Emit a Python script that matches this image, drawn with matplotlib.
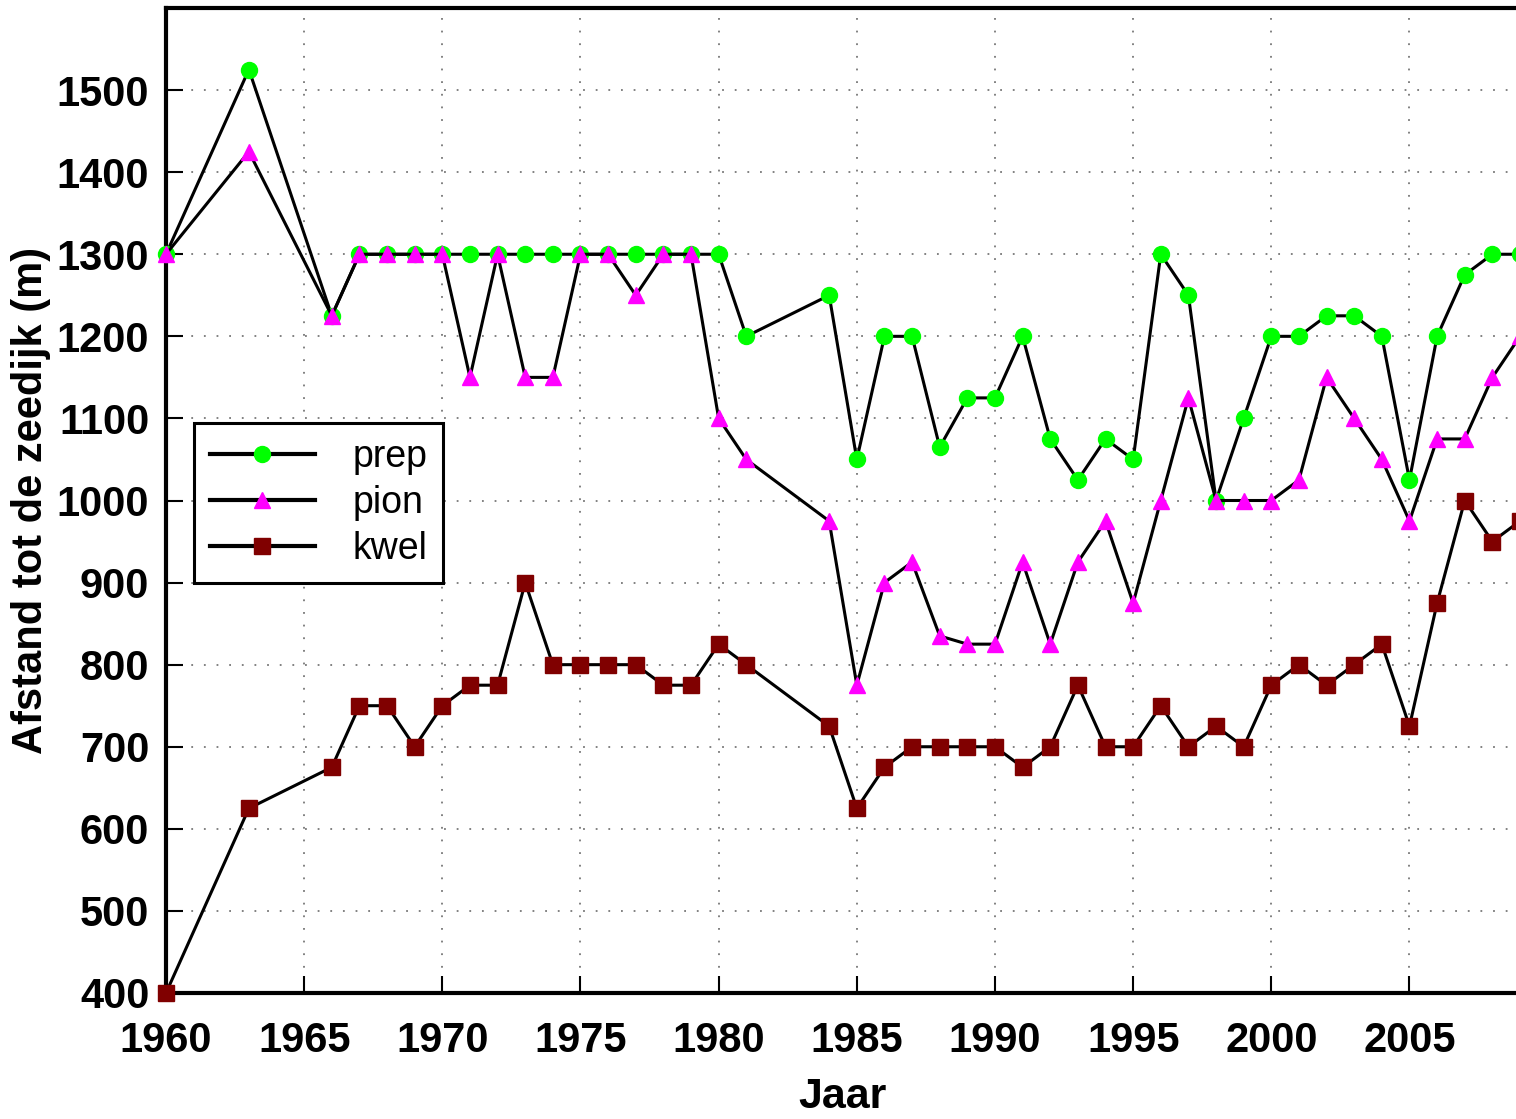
import matplotlib
matplotlib.use('Agg')
import matplotlib.pyplot as plt

# jaren en afstanden (m)
years = [1960, 1963, 1966, 1967, 1968, 1969, 1970, 1971, 1972, 1973, 1974,
         1975, 1976, 1977, 1978, 1979, 1980, 1981, 1984, 1985, 1986, 1987,
         1988, 1989, 1990, 1991, 1992, 1993, 1994, 1995, 1996, 1997, 1998,
         1999, 2000, 2001, 2002, 2003, 2004, 2005, 2006, 2007, 2008, 2009]

prep = [1300, 1525, 1225, 1300, 1300, 1300, 1300, 1300, 1300, 1300, 1300,
        1300, 1300, 1300, 1300, 1300, 1300, 1200, 1250, 1050, 1200, 1200,
        1065, 1125, 1125, 1200, 1075, 1025, 1075, 1050, 1300, 1250, 1000,
        1100, 1200, 1200, 1225, 1225, 1200, 1025, 1200, 1275, 1300, 1300]

pion = [1300, 1425, 1225, 1300, 1300, 1300, 1300, 1150, 1300, 1150, 1150,
        1300, 1300, 1250, 1300, 1300, 1100, 1050, 975, 775, 900, 925,
        835, 825, 825, 925, 825, 925, 975, 875, 1000, 1125, 1000,
        1000, 1000, 1025, 1150, 1100, 1050, 975, 1075, 1075, 1150, 1200]

kwel = [400, 625, 675, 750, 750, 700, 750, 775, 775, 900, 800,
        800, 800, 800, 775, 775, 825, 800, 725, 625, 675, 700,
        700, 700, 700, 675, 700, 775, 700, 700, 750, 700, 725,
        700, 775, 800, 775, 800, 825, 725, 875, 1000, 950, 975]

xticks = [1960, 1965, 1970, 1975, 1980, 1985, 1990, 1995, 2000, 2005]
yticks = list(range(400, 1600, 100))

plt.rcParams['font.family'] = ['Liberation Sans', 'DejaVu Sans']

fig = plt.figure(figsize=(15.16, 11.19), dpi=100)
# rechterrand valt net buiten het beeld, zoals in het origineel
ax = fig.add_axes([166 / 1516, 1 - 993 / 1119, (1520 - 166) / 1516, (993 - 8) / 1119])

ax.plot(years, prep, color='black', lw=2.2, marker='o', ms=11.5,
        mfc='#00ff00', mec='#00ff00', label='prep', clip_on=False, zorder=3)
ax.plot(years, pion, color='black', lw=2.2, marker='^', ms=11,
        mfc='#ff00ff', mec='#ff00ff', label='pion', clip_on=False, zorder=4)
ax.plot(years, kwel, color='black', lw=2.2, marker='s', ms=11,
        mfc='#800000', mec='#800000', label='kwel', clip_on=False, zorder=5)

ax.set_xlim(1960, 2009)
ax.set_ylim(400, 1600)
ax.set_xticks(xticks)
ax.set_yticks(yticks)
ax.set_xticklabels([str(t) for t in xticks], fontsize=30, fontweight='bold')
ax.set_yticklabels([str(t) for t in yticks], fontsize=30, fontweight='bold')

ax.grid(True, color='#777777', linestyle=(0, (1, 6)), linewidth=1.3)
ax.tick_params(direction='in', length=12, width=1.5, top=False, right=False)
ax.tick_params(axis='y', pad=12)
ax.tick_params(axis='x', pad=20)
for s in ax.spines.values():
    s.set_linewidth(3)

ax.set_xlabel('Jaar', fontsize=31, fontweight='bold', labelpad=12)
ax.set_ylabel('Afstand tot de zeedijk (m)', fontsize=30, fontweight='bold', labelpad=4)

leg = ax.legend(loc='upper left', bbox_to_anchor=((194 - 166) / 1354, 1 - (423 - 8) / 985),
                fontsize=27, handlelength=2.8, fancybox=False, framealpha=1,
                edgecolor='black', borderpad=0.42, labelspacing=0.27, handletextpad=1.0,
                borderaxespad=0)
leg.get_frame().set_linewidth(2.2)
for h in leg.get_lines():
    h.set_linewidth(3)

fig.savefig('out.png', dpi=100)
